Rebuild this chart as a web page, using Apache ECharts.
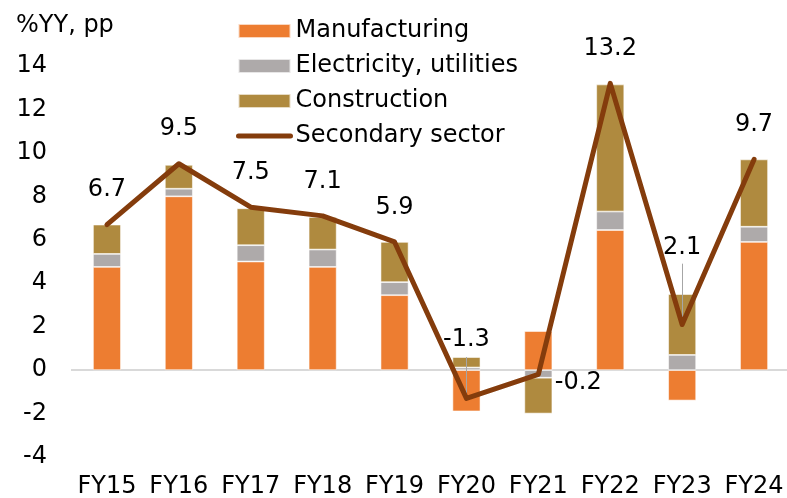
<!DOCTYPE html>
<html>
<head>
<meta charset="utf-8">
<script src="https://cdn.jsdelivr.net/npm/echarts@6/dist/echarts.min.js"></script>
<style>
  html, body { margin: 0; padding: 0; background: #fff; }
  #main-chart { width: 787px; height: 498px; }
</style>
</head>
<body>
<div id="main-chart"></div>
<script>
const categories = ["FY15", "FY16", "FY17", "FY18", "FY19", "FY20", "FY21", "FY22", "FY23", "FY24"];
const manufacturing = [4.75, 8.0, 5.0, 4.75, 3.45, -1.9, 1.8, 6.45, -1.4, 5.9];
const electricity = [0.6, 0.35, 0.75, 0.8, 0.6, 0.12, -0.35, 0.85, 0.7, 0.7];
const construction = [1.35, 1.1, 1.7, 1.5, 1.85, 0.48, -1.65, 5.85, 2.8, 3.1];
const secondary = [6.7, 9.5, 7.5, 7.1, 5.9, -1.3, -0.2, 13.2, 2.1, 9.7];
const yTicks = [-4, -2, 0, 2, 4, 6, 8, 10, 12, 14];

const FONT = "DejaVu Sans";
const LINE_COLOR = "#843C0C";
const chart = echarts.init(document.getElementById("main-chart"));

const barBase = {
  type: "bar",
  stack: "total",
  barWidth: 28,
  itemStyle: { borderColor: "rgba(255,255,255,0.7)", borderWidth: 0.8 }
};

// labels that sit away from the line, with a thin leader
const labelOverrides = {
  5: { distance: 46 },
  6: { position: "right", distance: 16, offset: [0, 8] },
  8: { distance: 64 }
};

const lineData = secondary.map((v, i) => {
  const o = labelOverrides[i];
  return o ? { value: v, label: o } : v;
});

chart.setOption({
  animation: false,
  textStyle: { fontFamily: FONT },
  title: {
    text: "%YY, pp",
    left: 11,
    top: 9,
    textStyle: { fontFamily: FONT, fontSize: 24, fontWeight: "normal", color: "#000" }
  },
  legend: {
    orient: "vertical",
    left: 231,
    top: 14,
    itemWidth: 52,
    itemHeight: 14,
    itemGap: 11,
    textStyle: { fontFamily: FONT, fontSize: 24, color: "#000" },
    data: [
      { name: "Manufacturing", icon: "rect" },
      { name: "Electricity, utilities", icon: "rect" },
      { name: "Construction", icon: "rect" },
      {
        name: "Secondary sector",
        itemStyle: { opacity: 0 },
        lineStyle: { width: 5, cap: "round", color: LINE_COLOR }
      }
    ]
  },
  grid: { left: 71, right: -3, top: 66, bottom: 41, containLabel: false, outerBoundsMode: "none" },
  xAxis: {
    type: "category",
    data: categories,
    axisLine: { show: false, onZero: false },
    axisTick: { show: false },
    axisLabel: { fontFamily: FONT, fontSize: 24, color: "#000", margin: 18, interval: 0 }
  },
  yAxis: {
    type: "value",
    min: yTicks[0],
    max: yTicks[yTicks.length - 1],
    interval: 2,
    splitLine: { show: false },
    axisLine: { show: false },
    axisTick: { show: false },
    axisLabel: { fontFamily: FONT, fontSize: 24, color: "#000", margin: 24 }
  },
  series: [
    Object.assign({}, barBase, {
      name: "Manufacturing",
      data: manufacturing,
      itemStyle: Object.assign({}, barBase.itemStyle, { color: "#ED7D31" }),
      markLine: {
        silent: true,
        symbol: "none",
        label: { show: false },
        lineStyle: { color: "#D9D9D9", width: 2, type: "solid" },
        data: [{ yAxis: 0 }],
        z: 1
      }
    }),
    Object.assign({}, barBase, {
      name: "Electricity, utilities",
      data: electricity,
      itemStyle: Object.assign({}, barBase.itemStyle, { color: "#AEAAAA" })
    }),
    Object.assign({}, barBase, {
      name: "Construction",
      data: construction,
      itemStyle: Object.assign({}, barBase.itemStyle, { color: "#AF8A3F" })
    }),
    {
      name: "Secondary sector",
      type: "line",
      data: lineData,
      symbol: "circle",
      symbolSize: 1,
      z: 5,
      itemStyle: { color: LINE_COLOR },
      lineStyle: { color: LINE_COLOR, width: 5, cap: "round", join: "round" },
      label: {
        show: true,
        position: "top",
        distance: 22,
        fontFamily: FONT,
        fontSize: 24,
        color: "#000",
        formatter: p => p.value.toFixed(1)
      },
      markLine: {
        silent: true,
        symbol: "none",
        label: { show: false },
        lineStyle: { color: "#A6A6A6", width: 1, type: "solid" },
        data: [
          [{ coord: [categories[5], 0.6] }, { coord: [categories[5], secondary[5]] }],
          [{ coord: [categories[8], 4.9] }, { coord: [categories[8], secondary[8]] }]
        ]
      }
    }
  ]
});

window.addEventListener("resize", () => {
  chart.resize();
});
</script>
</body>
</html>
